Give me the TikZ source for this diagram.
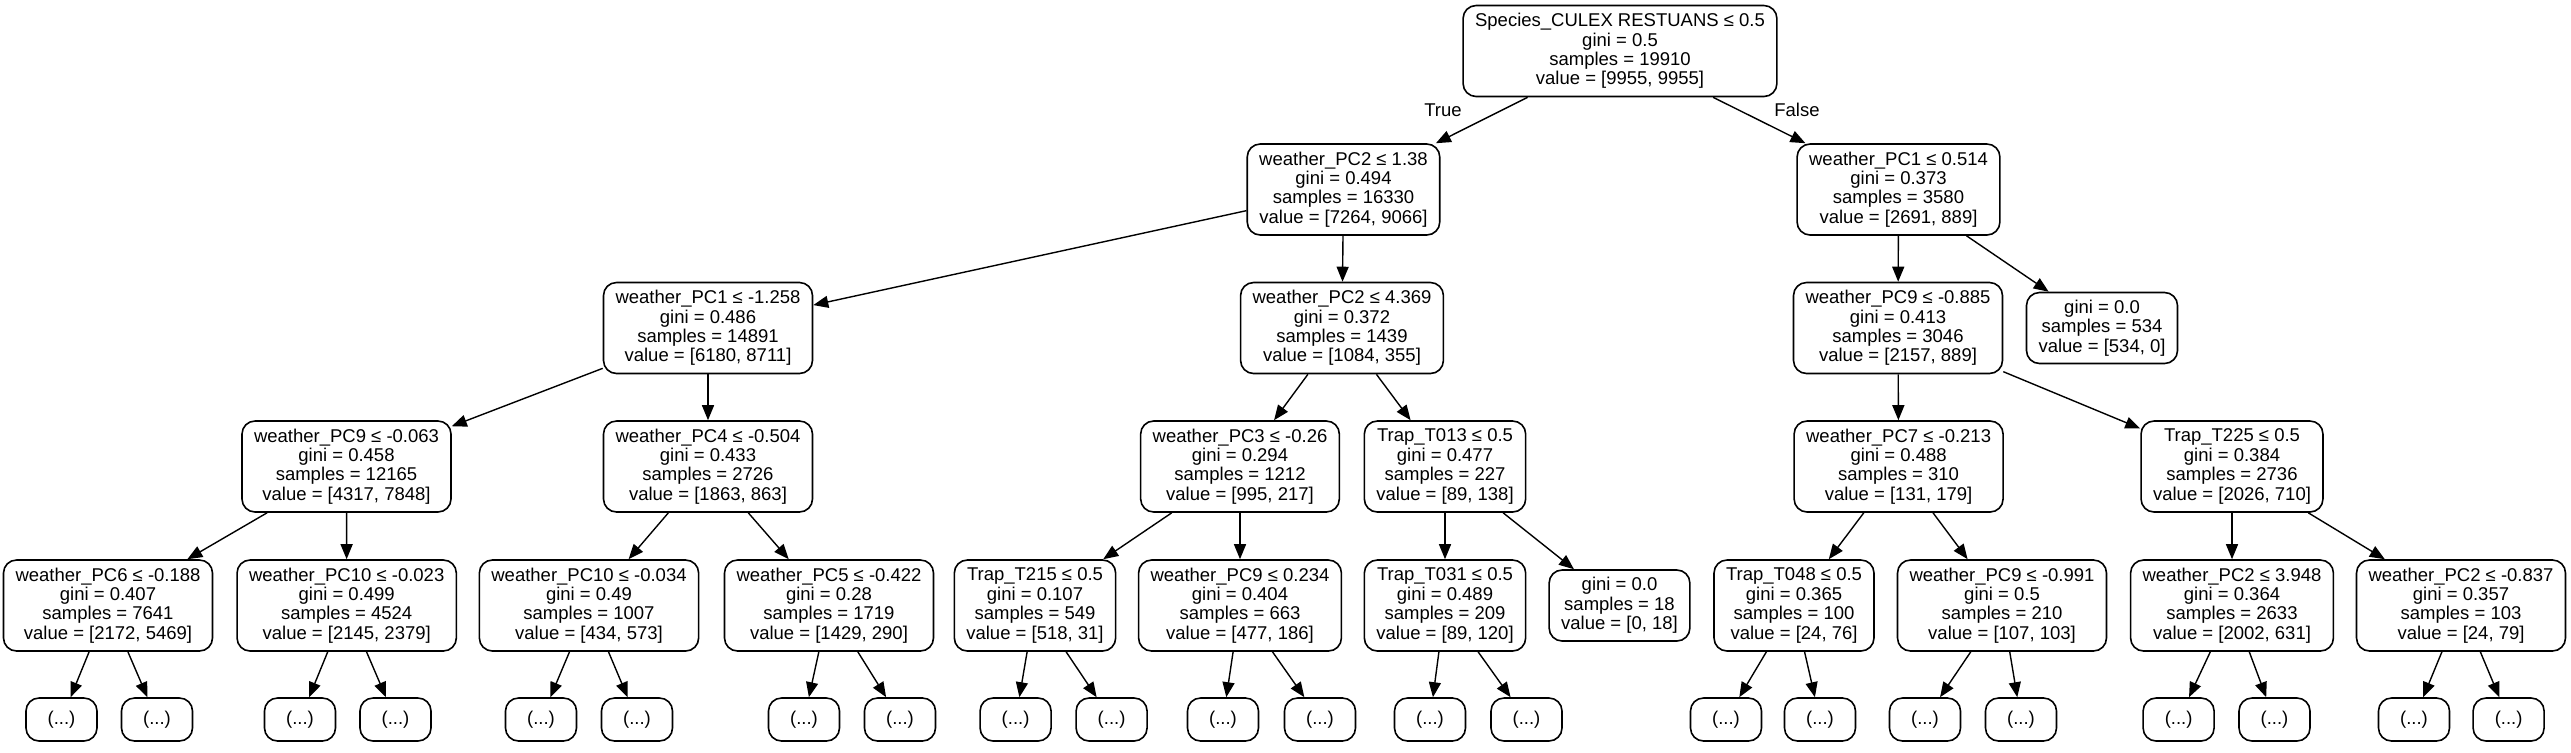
\documentclass[tikz,border=0pt]{standalone}
\usepackage{fontspec}
\setmainfont{Liberation Sans}
\usetikzlibrary{arrows.meta}
\begin{document}
\begin{tikzpicture}[x=0.5pt,y=-0.5pt,
  box/.style={draw, line width=0.8pt, rounded corners=6.5pt, align=center,
    font=\fontsize{9.25pt}{9.7pt}\selectfont, inner xsep=6pt, inner ysep=2pt,
    minimum height=45.5pt},
  leafbox/.style={box, minimum height=35.5pt},
  morebox/.style={box, minimum height=21.5pt, minimum width=35.5pt},
  edge/.style={line width=0.7pt, -{Triangle[length=7.5pt,width=6pt]}},
  lbl/.style={font=\fontsize{9.25pt}{9.7pt}\selectfont, inner sep=0pt}]
\useasboundingbox (0,0) rectangle (2571,752);
% level 0
\node[box] (root) at (1620,51) {Species\_CULEX RESTUANS ≤ 0.5\\gini = 0.5\\samples = 19910\\value = [9955, 9955]};
% level 1
\node[box] (a) at (1343.5,189.5) {weather\_PC2 ≤ 1.38\\gini = 0.494\\samples = 16330\\value = [7264, 9066]};
\node[box] (b) at (1898.5,189.5) {weather\_PC1 ≤ 0.514\\gini = 0.373\\samples = 3580\\value = [2691, 889]};
% level 2
\node[box] (aa) at (708,328) {weather\_PC1 ≤ -1.258\\gini = 0.486\\samples = 14891\\value = [6180, 8711]};
\node[box] (ab) at (1342,328) {weather\_PC2 ≤ 4.369\\gini = 0.372\\samples = 1439\\value = [1084, 355]};
\node[box] (ba) at (1898,328) {weather\_PC9 ≤ -0.885\\gini = 0.413\\samples = 3046\\value = [2157, 889]};
\node[leafbox] (bb) at (2102,328) {gini = 0.0\\samples = 534\\value = [534, 0]};
% level 3
\node[box] (aaa) at (346.5,466.5) {weather\_PC9 ≤ -0.063\\gini = 0.458\\samples = 12165\\value = [4317, 7848]};
\node[box] (aab) at (708,466.5) {weather\_PC4 ≤ -0.504\\gini = 0.433\\samples = 2726\\value = [1863, 863]};
\node[box] (aba) at (1240,466.5) {weather\_PC3 ≤ -0.26\\gini = 0.294\\samples = 1212\\value = [995, 217]};
\node[box] (abb) at (1445,466.5) {Trap\_T013 ≤ 0.5\\gini = 0.477\\samples = 227\\value = [89, 138]};
\node[box] (baa) at (1898.6,466.5) {weather\_PC7 ≤ -0.213\\gini = 0.488\\samples = 310\\value = [131, 179]};
\node[box] (bab) at (2232,466.5) {Trap\_T225 ≤ 0.5\\gini = 0.384\\samples = 2736\\value = [2026, 710]};
% level 4
\node[box] (c1) at (108,605.5) {weather\_PC6 ≤ -0.188\\gini = 0.407\\samples = 7641\\value = [2172, 5469]};
\node[box] (c2) at (346.7,605.5) {weather\_PC10 ≤ -0.023\\gini = 0.499\\samples = 4524\\value = [2145, 2379]};
\node[box] (c3) at (589,605.5) {weather\_PC10 ≤ -0.034\\gini = 0.49\\samples = 1007\\value = [434, 573]};
\node[box] (c4) at (829,605.5) {weather\_PC5 ≤ -0.422\\gini = 0.28\\samples = 1719\\value = [1429, 290]};
\node[box] (c5) at (1035,605.5) {Trap\_T215 ≤ 0.5\\gini = 0.107\\samples = 549\\value = [518, 31]};
\node[box] (c6) at (1240,605.5) {weather\_PC9 ≤ 0.234\\gini = 0.404\\samples = 663\\value = [477, 186]};
\node[box] (c7) at (1445,605.5) {Trap\_T031 ≤ 0.5\\gini = 0.489\\samples = 209\\value = [89, 120]};
\node[leafbox] (c8) at (1619.5,605.5) {gini = 0.0\\samples = 18\\value = [0, 18]};
\node[box] (c9) at (1794,605.5) {Trap\_T048 ≤ 0.5\\gini = 0.365\\samples = 100\\value = [24, 76]};
\node[box] (c10) at (2002,605.5) {weather\_PC9 ≤ -0.991\\gini = 0.5\\samples = 210\\value = [107, 103]};
\node[box] (c11) at (2232,605.5) {weather\_PC2 ≤ 3.948\\gini = 0.364\\samples = 2633\\value = [2002, 631]};
\node[box] (c12) at (2461,605.5) {weather\_PC2 ≤ -0.837\\gini = 0.357\\samples = 103\\value = [24, 79]};
% level 5
\foreach \n/\x in {d1/61.5, d2/157, d3/300, d4/395.5, d5/541, d6/637, d7/804, d8/900,
  d9/1015.6, d10/1111.6, d11/1223, d12/1320, d13/1430, d14/1526.5,
  d17/1726, d18/1820, d19/1925, d20/2021, d21/2178.6, d22/2274.5, d23/2414, d24/2508.6}
  \node[morebox] (\n) at (\x,719.5) {(...)};
% edge labels
\node[lbl] (t) at (1443,110) {True};
\node[lbl] (f) at (1797,110) {False};
% edges
\draw[edge] (root) -- (a);
\draw[edge] (root) -- (b);
\draw[edge] (a) -- (aa);
\draw[edge] (a) -- (ab);
\draw[edge] (b) -- (ba);
\draw[edge] (b) -- (bb);
\draw[edge] (aa) -- (aaa);
\draw[edge] (aa) -- (aab);
\draw[edge] (ab) -- (aba);
\draw[edge] (ab) -- (abb);
\draw[edge] (ba) -- (baa);
\draw[edge] (ba) -- (bab);
\draw[edge] (aaa) -- (c1);
\draw[edge] (aaa) -- (c2);
\draw[edge] (aab) -- (c3);
\draw[edge] (aab) -- (c4);
\draw[edge] (aba) -- (c5);
\draw[edge] (aba) -- (c6);
\draw[edge] (abb) -- (c7);
\draw[edge] (abb) -- (c8);
\draw[edge] (baa) -- (c9);
\draw[edge] (baa) -- (c10);
\draw[edge] (bab) -- (c11);
\draw[edge] (bab) -- (c12);
\foreach \p/\l/\r in {c1/d1/d2, c2/d3/d4, c3/d5/d6, c4/d7/d8, c5/d9/d10, c6/d11/d12,
  c7/d13/d14, c9/d17/d18, c10/d19/d20, c11/d21/d22, c12/d23/d24} {
  \draw[edge] (\p) -- (\l);
  \draw[edge] (\p) -- (\r);
}
\end{tikzpicture}
\end{document}
